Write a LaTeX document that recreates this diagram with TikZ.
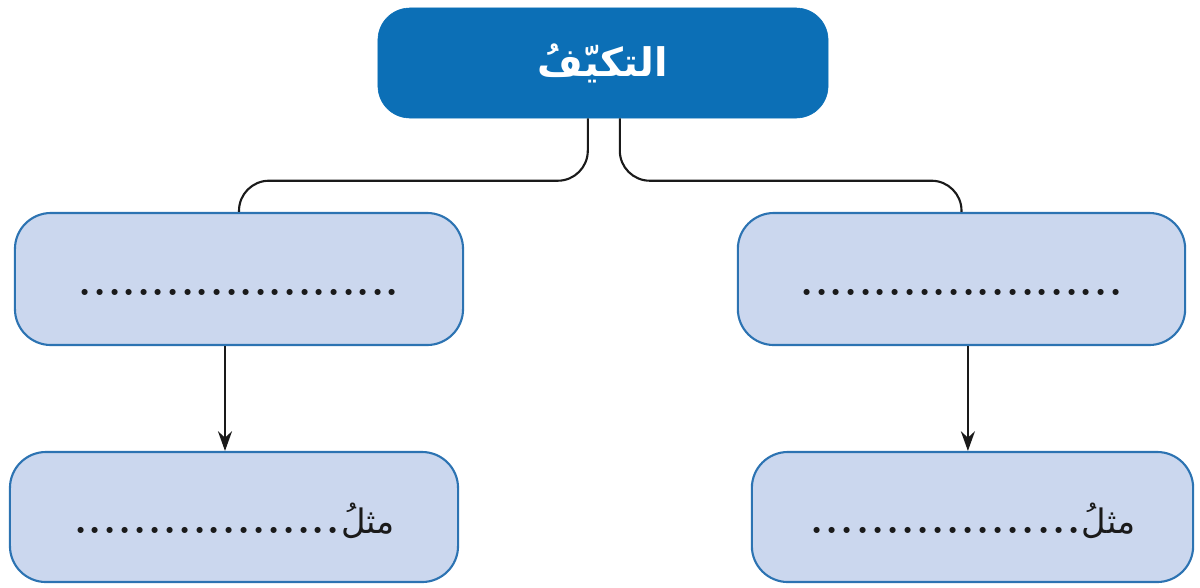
\documentclass[tikz,border=0pt]{standalone}
\usepackage{fontspec}
\usepackage{xcolor}
\usetikzlibrary{arrows.meta}
\TeXXeTstate=1
\newfontfamily\arabicfont[Script=Arabic]{DejaVu Sans}
\definecolor{deep}{HTML}{0C6FB6}
\definecolor{pale}{HTML}{CBD7EE}
\definecolor{rim}{HTML}{2C73B2}
\definecolor{ink}{HTML}{1A1A1A}
\newcommand\blankdots[1]{\hbox to #1{\xleaders\hbox to 0.36cm{\hss\textbf{.}\hss}\hfill}}
\newcommand\onbase[1]{\raisebox{-0.42cm}[0.6cm][0.6cm]{#1}}
\tikzset{
  topbox/.style={fill=deep, draw=deep, rounded corners=0.8cm, minimum width=11.25cm, minimum height=2.75cm, text=white, font=\arabicfont\bfseries\fontsize{28}{34}\selectfont},
  box/.style={fill=pale, draw=rim, line width=1.5pt, rounded corners=0.9cm, inner sep=0pt, text=ink, font=\fontsize{30}{34}\selectfont},
  link/.style={draw=ink, line width=1.5pt, rounded corners=0.75cm},
  arr/.style={draw=ink, line width=1.5pt, -{Stealth[length=14pt,width=10pt]}},
}
\begin{document}
\begin{tikzpicture}[x=0.025cm, y=-0.025cm]
  \useasboundingbox (0,0) rectangle (1200,587);
  % head of the chart
  \node[topbox] (top) at (603,63) {\beginR التكيّفُ\endR};
  % middle row
  \node[box, minimum width=11.2cm, minimum height=3.3cm] (lmid) at (239,279) {\onbase{\blankdots{8.05cm}}};
  \node[box, minimum width=11.18cm, minimum height=3.3cm] (rmid) at (961.5,279) {\onbase{\blankdots{8.1cm}}};
  % bottom row
  \node[box, minimum width=11.2cm, minimum height=3.25cm] (lbot) at (234,517) {\onbase{\blankdots{6.7cm}{\arabicfont\fontsize{24}{28}\selectfont\beginR مثلُ\endR}}};
  \node[box, minimum width=11.03cm, minimum height=3.25cm] (rbot) at (972.5,517) {\onbase{\blankdots{6.8cm}{\arabicfont\fontsize{24}{28}\selectfont\beginR مثلُ\endR}}};
  % connectors
  \draw[link] ([xshift=-0.38cm]top.south) |- ([yshift=0.78cm]lmid.north) -- (lmid.north);
  \draw[link] ([xshift=0.42cm]top.south) |- ([yshift=0.78cm]rmid.north) -- (rmid.north);
  \draw[arr] ([xshift=-0.35cm]lmid.south) -- ([xshift=-0.35cm]lmid.south |- lbot.north);
  \draw[arr] ([xshift=0.16cm]rmid.south) -- ([xshift=0.16cm]rmid.south |- rbot.north);
\end{tikzpicture}
\end{document}
